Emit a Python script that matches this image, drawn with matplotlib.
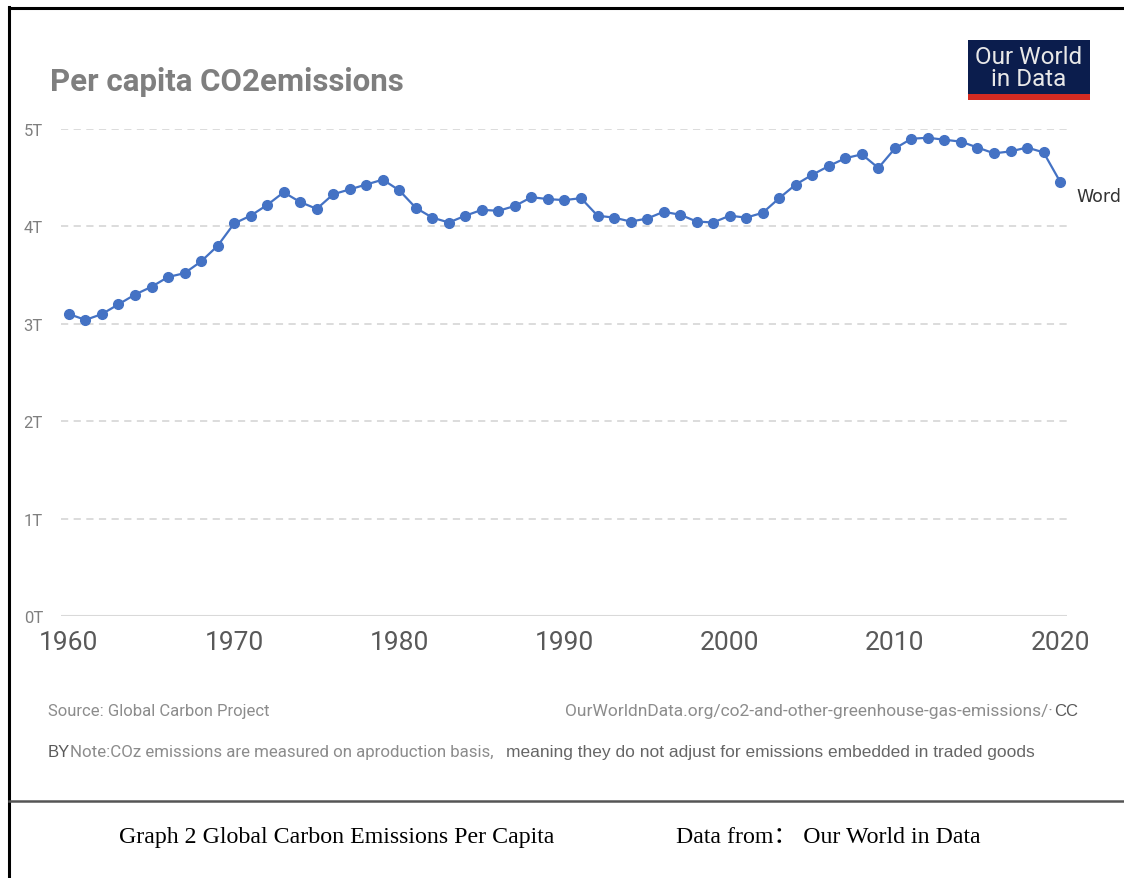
import matplotlib
matplotlib.use("Agg")
import matplotlib.pyplot as plt
from matplotlib.lines import Line2D
from matplotlib.patches import Rectangle

# ── Data ─────────────────────────────────────────────────────────────
years = list(range(1960, 2021))
co2_per_capita = [
    3.10, 3.04, 3.10, 3.20, 3.30, 3.38, 3.48, 3.52, 3.64, 3.80,  # 1960s
    4.03, 4.11, 4.22, 4.35, 4.25, 4.18, 4.33, 4.38, 4.43, 4.48,  # 1970s
    4.37, 4.19, 4.09, 4.04, 4.11, 4.17, 4.16, 4.21, 4.30, 4.28,  # 1980s
    4.27, 4.29, 4.11, 4.09, 4.05, 4.08, 4.15, 4.12, 4.05, 4.04,  # 1990s
    4.11, 4.09, 4.14, 4.29, 4.43, 4.53, 4.62, 4.70, 4.74, 4.60,  # 2000s
    4.80, 4.90, 4.91, 4.89, 4.87, 4.81, 4.75, 4.77, 4.81, 4.76,  # 2010s
    4.46,                                                        # 2020
]
y_ticks = [0, 1, 2, 3, 4, 5]
y_tick_labels = ["0T", "1T", "2T", "3T", "4T", "5T"]
x_ticks = [1960, 1970, 1980, 1990, 2000, 2010, 2020]
series_label = "Word"

W, H = 1124, 879
fig = plt.figure(figsize=(W / 100, H / 100), dpi=100)


def fx(px):
    return px / W


def fy(py):
    return 1 - py / H


# plot area: x 61..1067 px, y 130 (5T) .. 617 (0T)
ax = fig.add_axes([fx(61), fy(617), fx(1067 - 61), fy(130) - fy(617)])
ax.plot(years, co2_per_capita, color="#4472C4", linewidth=1.6,
        marker="o", markersize=7, zorder=5, clip_on=False)
ax.set_xlim(1959.52, 2020.42)
ax.set_ylim(0, 5)

for v in y_ticks[1:]:
    ax.axhline(v, color="#d9d9d9", linewidth=1.3, linestyle=(0, (4, 3)), zorder=1)
ax.axhline(0, color="#d9d9d9", linewidth=1.5, zorder=1)

for s in ax.spines.values():
    s.set_visible(False)
ax.set_yticks(y_ticks)
ax.set_yticklabels(y_tick_labels)
ax.set_xticks(x_ticks)
ax.set_xticklabels([str(t) for t in x_ticks])
ax.tick_params(axis="both", length=0)
ax.tick_params(axis="y", pad=13, labelsize=12, labelcolor="#7f7f7f")
ax.tick_params(axis="x", pad=10, labelsize=19, labelcolor="#595959")
for lbl in ax.get_yticklabels() + ax.get_xticklabels():
    lbl.set_family("Roboto")

ax.annotate(series_label, xy=(years[-1], co2_per_capita[-1]),
            xytext=(16, -14), textcoords="offset pixels",
            fontsize=12.5, color="#333333", va="center", ha="left",
            annotation_clip=False)

# title
fig.text(fx(50), fy(82), "Per capita CO2emissions", fontsize=22.5,
         fontweight="bold", color="#7f7f7f", va="center", ha="left",
         family="Roboto")

# OWID logo
fig.add_artist(Rectangle((fx(968), fy(95)), fx(122), fy(41) - fy(95),
                         transform=fig.transFigure, facecolor="#0b1d4d",
                         edgecolor="none"))
fig.add_artist(Rectangle((fx(968), fy(101)), fx(122), fy(95) - fy(101),
                         transform=fig.transFigure, facecolor="#d42b22",
                         edgecolor="none"))
fig.text(fx(1029), fy(57), "Our World", fontsize=17.5, color="#e8e8e8",
         ha="center", va="center", family="Roboto")
fig.text(fx(1029), fy(79), "in Data", fontsize=17.5, color="#e8e8e8",
         ha="center", va="center", family="Roboto")

# footer notes
fig.text(fx(48), fy(712), "Source: Global Carbon Project", fontsize=12,
         color="#8c8c8c", va="center", ha="left", family="Roboto")
fig.text(fx(1053), fy(712),
         "OurWorldnData.org/co2-and-other-greenhouse-gas-emissions/\u00b7",
         fontsize=12.5, color="#8c8c8c", va="center", ha="right", family="Roboto")
fig.text(fx(1054), fy(711), "CC", fontsize=12, color="#595959",
         va="center", ha="left", family="Liberation Sans")
fig.text(fx(48), fy(753), "BY", fontsize=12, color="#595959",
         va="center", ha="left", family="Liberation Sans")
fig.text(fx(70), fy(753), "Note:COz emissions are measured on aproduction basis,",
         fontsize=12.2, color="#8c8c8c", va="center", ha="left", family="Roboto")
fig.text(fx(506), fy(753),
         "meaning they do not adjust for emissions embedded in traded goods",
         fontsize=12.5, color="#666666", va="center", ha="left",
         family="Liberation Sans")

# frame lines of the document
fig.add_artist(Line2D([fx(9), fx(9)], [fy(8), fy(879)], color="black",
                      linewidth=2.2, transform=fig.transFigure))
fig.add_artist(Line2D([fx(9), fx(1124)], [fy(9), fy(9)], color="black",
                      linewidth=2.2, transform=fig.transFigure))
fig.add_artist(Line2D([fx(9), fx(1124)], [fy(802), fy(802)], color="#555555",
                      linewidth=1.8, transform=fig.transFigure))

# caption
fig.text(fx(119), fy(838), "Graph 2 Global Carbon Emissions Per Capita",
         fontsize=17.2, color="black", va="center", ha="left",
         family="Liberation Serif")
fig.text(fx(676), fy(838), "Data from\uff1a Our World in Data",
         fontsize=17.2, color="black", va="center", ha="left",
         family=["Liberation Serif", "Noto Sans CJK SC"])

fig.savefig("out.png", dpi=100, facecolor="white")
